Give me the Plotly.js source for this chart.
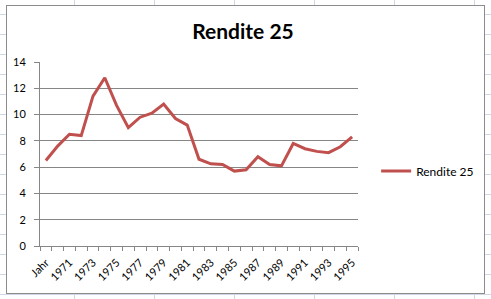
<!DOCTYPE html>
<html><head><meta charset="utf-8">
<script src="https://cdn.plot.ly/plotly-3.0.1.min.js"></script>
<style>
html,body{margin:0;padding:0;}
#sheet{position:relative;width:491px;height:299px;overflow:hidden;background-color:#fff;
background-image:linear-gradient(to right,#d0d7e5 1px,transparent 1px),linear-gradient(to bottom,#d0d7e5 1px,transparent 1px);
background-size:80px 20px;background-position:74px 14px;}
#frame{position:absolute;left:6px;top:5px;width:477px;height:287px;border:1px solid #8c8c8c;background:#fff;overflow:hidden;}
#chart{position:absolute;left:0;top:0;width:500px;height:287px;}
</style></head>
<body>
<div id="sheet"><div id="frame"><div id="chart"></div></div></div>
<script>
const categories = ["Jahr","1970","1971","1972","1973","1974","1975","1976","1977","1978","1979","1980","1981","1982","1983","1984","1985","1986","1987","1988","1989","1990","1991","1992","1993","1994","1995"];
const rendite25 = [6.5,7.6,8.5,8.4,11.4,12.8,10.7,9.0,9.8,10.1,10.8,9.7,9.2,6.6,6.25,6.2,5.7,5.8,6.8,6.2,6.1,7.8,7.4,7.2,7.1,7.55,8.3];
const seriesName = "Rendite 25";
const chartTitle = "Rendite 25";
const yTicks = [0,2,4,6,8,10,12,14];
const tickText = categories.map((c,i)=> i%2===0 ? c : "");

const font = "Lato, 'Open Sans', sans-serif";
Plotly.newPlot("chart",[{
  type:"scatter", mode:"lines", x:categories, y:rendite25, name:seriesName,
  line:{color:"#c0504d", width:3}
}],{
  width:500, height:287,
  margin:{l:33,r:149,t:56,b:47},
  paper_bgcolor:"#fff", plot_bgcolor:"#fff",
  font:{family:font, size:11, color:"#000"},
  title:{text:"<b>"+chartTitle+"</b>", font:{family:font, size:21, color:"#000"},
    x:236/500, xref:"container", xanchor:"center", y:0.909, yref:"container", yanchor:"middle"},
  showlegend:true,
  legend:{x:1.057, y:0.408, xanchor:"left", yanchor:"middle", font:{family:font,size:12,color:"#000"}, bgcolor:"rgba(0,0,0,0)"},
  xaxis:{type:"category", range:[-0.5,26.5], tickmode:"array", tickvals:categories, ticktext:tickText,
    tickson:"boundaries", ticks:"outside", ticklen:4, tickcolor:"#868686", tickangle:-45, ticklabelstandoff:5,
    showline:true, linecolor:"#868686", linewidth:1, showgrid:false, zeroline:false,
    tickfont:{family:font,size:11,color:"#000"}},
  yaxis:{range:[0,14], tickmode:"array", tickvals:yTicks, showline:true, linecolor:"#868686", linewidth:1,
    showgrid:true, gridcolor:"#868686", gridwidth:1, zeroline:false, ticks:"outside", ticklen:5, tickcolor:"#868686", ticklabelstandoff:6,
    tickfont:{family:font,size:11,color:"#000"}}
},{displayModeBar:false, staticPlot:true});
</script>
</body></html>
